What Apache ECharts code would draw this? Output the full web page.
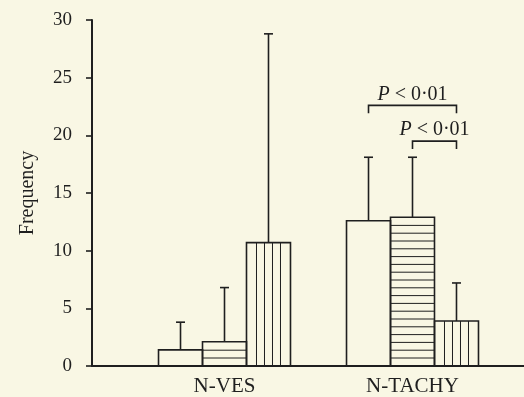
<!DOCTYPE html>
<html>
<head>
<meta charset="utf-8">
<script src="https://cdn.jsdelivr.net/npm/echarts@6/dist/echarts.min.js"></script>
<style>
  html, body { margin: 0; padding: 0; background: #f9f7e4; }
  #chart { width: 524px; height: 397px; }
</style>
</head>
<body>
<div id="chart"></div>
<script>
// groups on the x axis
var groups = ['N-VES', 'N-TACHY'];

// three bars per group: mean and top of error bar
var plainMean = [1.4, 12.6];
var plainErr  = [3.8, 18.1];
var hatchMean = [2.1, 12.9];   // horizontal stripes
var hatchErr  = [6.8, 18.1];
var vertMean  = [10.7, 3.9];   // vertical stripes
var vertErr   = [28.8, 7.2];

// significance brackets (bar slots inside a group)
var sigGroup = [1, 1];
var sigFrom  = [0, 1];
var sigTo    = [2, 2];
var sigLevel = [22.6, 19.5];
var sigText  = ['{i|P} < 0·01', '{i|P} < 0·01'];

var ink = '#1f1f1f';
var serif = '"Liberation Serif", "DejaVu Serif", serif';
var slotFrac = 0.234; // bar width as part of a category band

function rows(mean, err) {
  return groups.map(function (g, i) { return [i, mean[i], err[i]]; });
}

// draws one bar with its error bar and fill pattern
function barRenderer(slot, pattern) {
  return function (params, api) {
    var g = api.value(0);
    var base = api.coord([g, 0]);
    var top = api.coord([g, api.value(1)])[1];
    var errTop = api.coord([g, api.value(2)])[1];
    var bw = api.size([1, 0])[0] * slotFrac;
    var x0 = base[0] - 1.5 * bw + slot * bw;
    var xm = x0 + bw / 2;
    var thick = { stroke: ink, lineWidth: 1.6 };
    var thin = { stroke: ink, lineWidth: 1 };
    var kids = [];
    kids.push({ type: 'line', shape: { x1: xm, y1: top, x2: xm, y2: errTop }, style: thick });
    kids.push({ type: 'line', shape: { x1: xm - 4.5, y1: errTop, x2: xm + 4.5, y2: errTop }, style: thick });
    if (pattern === 'h') {
      for (var y = base[1] - 8; y > top + 3; y -= 7.8) {
        kids.push({ type: 'line', shape: { x1: x0, y1: y, x2: x0 + bw, y2: y }, style: thin });
      }
    }
    if (pattern === 'v') {
      [-12, -4, 4, 12].forEach(function (dx) {
        kids.push({ type: 'line', shape: { x1: xm + dx, y1: top, x2: xm + dx, y2: base[1] }, style: thin });
      });
    }
    kids.push({
      type: 'rect',
      shape: { x: x0, y: top, width: bw, height: base[1] - top },
      style: { fill: 'none', stroke: ink, lineWidth: 1.6 }
    });
    return { type: 'group', children: kids };
  };
}

function sigRenderer(params, api) {
  var i = params.dataIndex;
  var g = api.value(0);
  var base = api.coord([g, 0]);
  var y = api.coord([g, api.value(1)])[1];
  var bw = api.size([1, 0])[0] * slotFrac;
  var xa = base[0] - 1.5 * bw + (sigFrom[i] + 0.5) * bw;
  var xb = base[0] - 1.5 * bw + (sigTo[i] + 0.5) * bw;
  return {
    type: 'group',
    children: [
      {
        type: 'polyline',
        shape: { points: [[xa, y + 8], [xa, y], [xb, y], [xb, y + 8]] },
        style: { fill: 'none', stroke: ink, lineWidth: 1.6 }
      },
      {
        type: 'text',
        style: {
          text: sigText[i],
          x: (xa + xb) / 2, y: y - 1,
          align: 'center', verticalAlign: 'bottom',
          fontFamily: serif, fontSize: 20, fill: ink,
          rich: { i: { fontStyle: 'italic', fontFamily: serif, fontSize: 20, fill: ink } }
        }
      }
    ]
  };
}

var chart = echarts.init(document.getElementById('chart'));
chart.setOption({
  backgroundColor: '#f9f7e4',
  animation: false,
  grid: [
    { left: 130.5, right: 17.5, top: 20, bottom: 31 },
    { left: 92, right: 0, top: 20, bottom: 31 }
  ],
  xAxis: [
    {
      type: 'category', data: groups, gridIndex: 0,
      axisLine: { show: false }, axisTick: { show: false },
      axisLabel: { margin: 10, fontSize: 21, color: ink, fontFamily: serif }
    },
    {
      // baseline running the full width
      type: 'value', gridIndex: 1, min: 0, max: 1,
      axisLine: { show: true, lineStyle: { color: ink, width: 2 } },
      axisTick: { show: false }, axisLabel: { show: false }, splitLine: { show: false }
    }
  ],
  yAxis: [
    {
      type: 'value', gridIndex: 0, min: 0, max: 30, interval: 5, offset: 38.5,
      name: 'Frequency', nameLocation: 'middle', nameGap: 54,
      nameTextStyle: { fontSize: 20, color: ink, fontFamily: serif },
      axisLine: { show: true, lineStyle: { color: ink, width: 2 } },
      axisTick: { show: true, length: 6, lineStyle: { color: ink, width: 1.6 } },
      axisLabel: { margin: 20, fontSize: 19, color: ink, fontFamily: serif },
      splitLine: { show: false }
    },
    { type: 'value', gridIndex: 1, min: 0, max: 30, show: false }
  ],
  series: [
    { type: 'custom', data: rows(plainMean, plainErr), encode: { x: 0, y: 1 }, renderItem: barRenderer(0, 'none') },
    { type: 'custom', data: rows(hatchMean, hatchErr), encode: { x: 0, y: 1 }, renderItem: barRenderer(1, 'h') },
    { type: 'custom', data: rows(vertMean, vertErr), encode: { x: 0, y: 1 }, renderItem: barRenderer(2, 'v') },
    {
      type: 'custom',
      data: sigGroup.map(function (g, i) { return [g, sigLevel[i]]; }),
      encode: { x: 0, y: 1 },
      renderItem: sigRenderer
    }
  ]
});
</script>
</body>
</html>
